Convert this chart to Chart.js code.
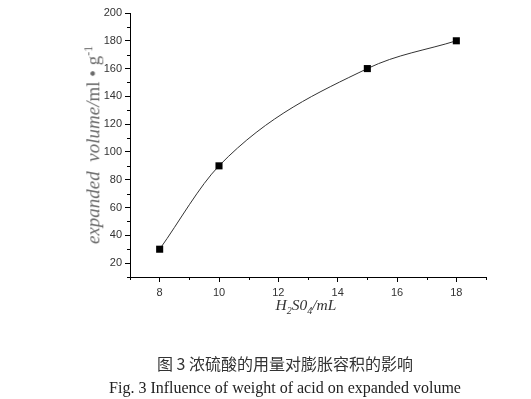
<!DOCTYPE html>
<html lang="zh-CN">
<head>
    <meta charset="UTF-8">
    <title>Fig. 3</title>
    <script src="https://cdn.jsdelivr.net/npm/chart.js"></script>
    <style>
        body { margin: 0; background: #fff; }
        #wrap { position: relative; width: 531px; height: 399px; overflow: hidden; }
        #chartBox { position: absolute; left: 0; top: 0; width: 531px; height: 399px; }
        .ytitle {
            position: absolute; left: 93px; top: 145px;
            transform: translate(-50%, -50%) rotate(-90deg);
            white-space: nowrap; color: #6a6a6a;
            font-family: "Liberation Serif", "DejaVu Serif", serif; font-size: 19px;
        }
        .ytitle sup { font-size: 12px; }
        .xtitle {
            position: absolute; left: 306px; top: 306px;
            transform: translate(-50%, -50%);
            white-space: nowrap; color: #333; font-style: italic;
            font-family: "Liberation Serif", serif; font-size: 15.5px;
        }
        .xtitle sub { font-size: 10px; }
        .cap {
            position: absolute; left: 285px; transform: translateX(-50%);
            white-space: nowrap; color: #222;
        }
        .cap.zh { top: 351px; font-family: "Noto Sans CJK SC", sans-serif; font-size: 16px; color: #333; }
        .cap.en { top: 379px; font-family: "Liberation Serif", serif; font-size: 16px; }
    </style>
</head>
<body>
<div id="wrap">
    <div id="chartBox"><canvas id="grafico"></canvas></div>
    <div class="ytitle"><i>expanded&nbsp; volume/</i>ml •&nbsp;g<sup>-1</sup></div>
    <div class="xtitle">H<sub>2</sub>S0<sub>4</sub>/mL</div>
    <div class="cap zh">图 3 浓硫酸的用量对膨胀容积的影响</div>
    <div class="cap en">Fig. 3 Influence of weight of acid on expanded volume</div>
</div>

<script>
    // dados
    const acidVolume = [8, 10, 15, 18];
    const expandedVolume = [30, 90, 160, 180];
    const xTicks = [8, 10, 12, 14, 16, 18];
    const xMinor = [7, 9, 11, 13, 15, 17, 19];
    const yTicks = [20, 40, 60, 80, 100, 120, 140, 160, 180, 200];
    const yMinor = [10, 30, 50, 70, 90, 110, 130, 150, 170, 190];

    // marcas menores (mais curtas) nos eixos
    const minorTicks = {
        id: 'minorTicks',
        afterDraw(chart) {
            const ctx = chart.ctx;
            const xs = chart.scales.x, ys = chart.scales.y;
            ctx.save();
            ctx.strokeStyle = '#000';
            ctx.lineWidth = 1;
            ctx.beginPath();
            xMinor.forEach(v => {
                const px = Math.round(xs.getPixelForValue(v)) + 0.5;
                ctx.moveTo(px, ys.bottom);
                ctx.lineTo(px, ys.bottom + 3);
            });
            yMinor.forEach(v => {
                const py = Math.round(ys.getPixelForValue(v)) + 0.5;
                ctx.moveTo(xs.left, py);
                ctx.lineTo(xs.left - 3, py);
            });
            ctx.stroke();
            ctx.restore();
        }
    };

    const tickFont = { family: '"Liberation Sans", Arial, sans-serif', size: 11 };

    new Chart(document.getElementById('grafico'), {
        type: 'line',
        data: {
            datasets: [{
                data: acidVolume.map((x, i) => ({ x: x, y: expandedVolume[i] })),
                borderColor: '#333',
                borderWidth: 1,
                cubicInterpolationMode: 'monotone',
                pointStyle: 'rect',
                pointRadius: 5,
                pointBackgroundColor: '#000',
                pointBorderColor: '#000',
                pointBorderWidth: 0
            }]
        },
        options: {
            responsive: true,
            maintainAspectRatio: false,
            animation: false,
            layout: { padding: { left: 0, top: 13, right: 45, bottom: 92 } },
            plugins: { legend: { display: false }, tooltip: { enabled: false } },
            scales: {
                x: {
                    type: 'linear', min: 7, max: 19,
                    afterBuildTicks: s => { s.ticks = xTicks.map(v => ({ value: v })); },
                    afterFit: s => { s.height = 30; },
                    grid: { drawOnChartArea: false, tickLength: 5, color: '#000' },
                    border: { color: '#000', width: 1 },
                    ticks: { font: tickFont, color: '#333', padding: 4, maxRotation: 0 }
                },
                y: {
                    min: 10, max: 200,
                    afterBuildTicks: s => { s.ticks = yTicks.map(v => ({ value: v })); },
                    afterFit: s => { s.width = 130; },
                    grid: { drawOnChartArea: false, tickLength: 5, color: '#000' },
                    border: { color: '#000', width: 1 },
                    ticks: { font: tickFont, color: '#333', padding: 3 }
                }
            }
        },
        plugins: [minorTicks]
    });
</script>
</body>
</html>
